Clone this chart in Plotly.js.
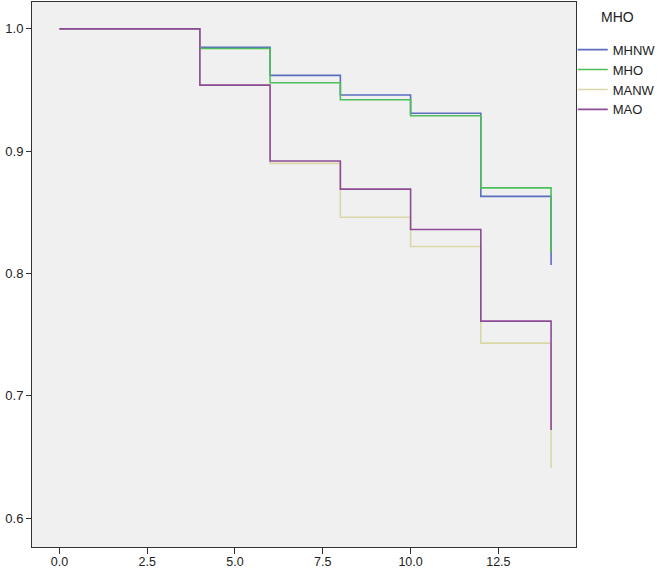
<!DOCTYPE html>
<html>
<head>
<meta charset="utf-8">
<script src="https://cdn.plot.ly/plotly-3.0.1.min.js"></script>
<style>
  html, body { margin: 0; padding: 0; background: #fff; }
  #plot { width: 658px; height: 570px; }
</style>
</head>
<body>
<div id="plot"></div>
<script>
// follow-up times (step points)
const times = [0, 4, 6, 8, 10, 12, 14];

// cumulative survival per group
const mhnw = [1.0, 0.985, 0.962, 0.946, 0.931, 0.863, 0.807];
const mho  = [1.0, 0.984, 0.956, 0.942, 0.929, 0.870, 0.818];
const manw = [1.0, 0.954, 0.890, 0.846, 0.822, 0.743, 0.641];
const mao  = [1.0, 0.954, 0.892, 0.869, 0.836, 0.761, 0.672];

const groupNames = ['MHNW', 'MHO', 'MANW', 'MAO'];
const groupColors = ['#5a6ec0', '#4cbf5c', '#dad7a6', '#8d4a97'];
const groupValues = [mhnw, mho, manw, mao];

const xTicks = [0, 2.5, 5, 7.5, 10, 12.5];
const xTickText = ['0.0', '2.5', '5.0', '7.5', '10.0', '12.5'];
const yTicks = [0.6, 0.7, 0.8, 0.9, 1.0];
const yTickText = ['0.6', '0.7', '0.8', '0.9', '1.0'];

const traces = groupNames.map((name, i) => ({
    x: times,
    y: groupValues[i],
    name: name,
    type: 'scatter',
    mode: 'lines',
    line: { shape: 'hv', color: groupColors[i], width: 1.6 },
    hoverinfo: 'x+y+name'
}));

const layout = {
    width: 658,
    height: 570,
    margin: { l: 32, r: 82, t: 2, b: 23, autoexpand: false },
    paper_bgcolor: '#ffffff',
    plot_bgcolor: '#f0f0f0',
    font: { family: 'Liberation Sans, Arial, sans-serif', size: 12, color: '#222' },
    showlegend: true,
    legend: {
        x: 0.994,
        y: 0.94,
        xanchor: 'left',
        yanchor: 'top',
        bgcolor: 'rgba(0,0,0,0)',
        itemwidth: 30,
        tracegroupgap: 0,
        font: { size: 13, color: '#222' }
    },
    // legend heading
    annotations: [{
        text: 'MHO',
        xref: 'paper', yref: 'paper',
        x: 1.077, y: 1.0,
        xanchor: 'center', yanchor: 'middle',
        yshift: -15,
        showarrow: false,
        font: { size: 14, color: '#222' }
    }],
    xaxis: {
        range: [-0.78, 14.71],
        tickvals: xTicks,
        ticktext: xTickText,
        ticks: 'outside',
        ticklen: 6,
        ticklabelstandoff: -3,
        tickcolor: '#333',
        showgrid: false,
        zeroline: false,
        showline: true,
        mirror: true,
        linecolor: '#333',
        linewidth: 1,
        tickfont: { size: 12.5, color: '#222' }
    },
    yaxis: {
        range: [0.5763, 1.022],
        tickvals: yTicks,
        ticktext: yTickText,
        ticks: 'outside',
        ticklen: 5,
        tickcolor: '#333',
        showgrid: false,
        zeroline: false,
        showline: true,
        mirror: true,
        linecolor: '#333',
        linewidth: 1,
        tickfont: { size: 13, color: '#222' }
    }
};

Plotly.newPlot('plot', traces, layout, { displayModeBar: false, staticPlot: true });
</script>
</body>
</html>
